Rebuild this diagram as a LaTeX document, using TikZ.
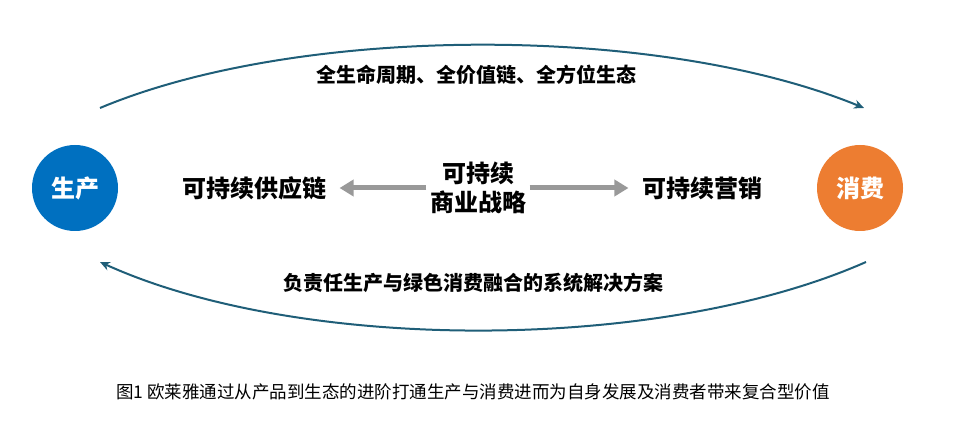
\documentclass[tikz,border=0pt]{standalone}
\usepackage{fontspec}
\setmainfont{Noto Sans CJK SC}
\usetikzlibrary{arrows.meta}
\definecolor{sblue}{RGB}{0,112,192}
\definecolor{sorange}{RGB}{237,125,49}
\definecolor{arcblue}{RGB}{31,94,120}
\tikzset{ring/.style={circle,minimum size=86pt,inner sep=0,text=white,font=\fontsize{24}{28}\selectfont\bfseries},
         lbl/.style={align=center,font=\fontsize{24}{29}\selectfont\bfseries},
         arclbl/.style={font=\fontsize{20}{24}\selectfont\bfseries},
         grayarr/.style={line width=5pt,gray!80,shorten >=10pt,-{Triangle[length=14pt,width=16pt]}},
         arc/.style={line width=2pt,arcblue,-{Stealth[length=10pt,width=9pt]}}}
\begin{document}
\begin{tikzpicture}[x=1pt,y=1pt]
\useasboundingbox (0,0) rectangle (960,428);
	\node[ring,fill=sblue] (prod) at (75,240) {生产};
	\node[ring,fill=sorange] (cons) at (860,240) {消费};

	\node[lbl] (strat) at (478,240) {可持续\\商业战略};
	\node[lbl] (supply) at (254,240) {可持续供应链};
	\node[lbl] (market) at (702,240) {可持续营销};

	\draw[grayarr] (strat.west) -- (supply.east);
	\draw[grayarr] (strat.east) -- (market.west);

% % % arcs
	\coordinate (ta) at (100,320);
	\coordinate (tb) at (864,320);
	\coordinate (ba) at (866,166);
	\coordinate (bb) at (100,166);
	\draw[arc] (ta) .. controls (300,404) and (660,404) .. (tb);
	\draw[arc] (ba) .. controls (660,75) and (300,75) .. (bb);

	\node[arclbl] (top) at (476,353) {全生命周期、全价值链、全方位生态};
	\node[arclbl] (bot) at (473,145) {负责任生产与绿色消费融合的系统解决方案};

	\node[font=\fontsize{17.5}{21}\selectfont] (cap) at (473,36) {图1 欧莱雅通过从产品到生态的进阶打通生产与消费进而为自身发展及消费者带来复合型价值};
\end{tikzpicture}
\end{document}
